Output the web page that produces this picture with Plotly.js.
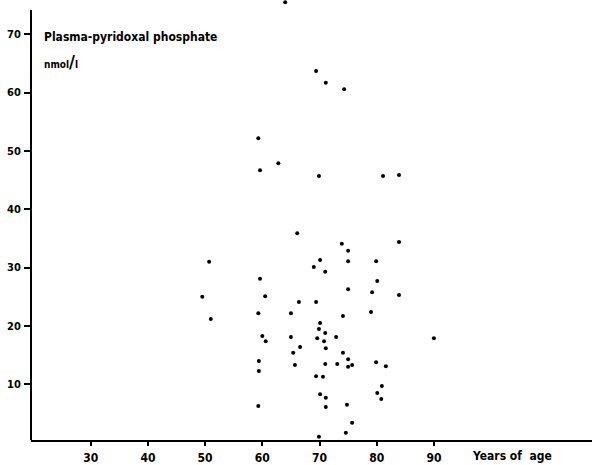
<!DOCTYPE html>
<html>
<head>
<meta charset="utf-8">
<script src="https://cdn.plot.ly/plotly-3.0.1.min.js"></script>
<style>html,body{margin:0;padding:0;background:#fff;}#chart{width:592px;height:465px;}</style>
</head>
<body>
<div id="chart"></div>
<script>
// Age (years) of each subject
var ageYears = [
  64.0, 69.4, 71.1, 74.3, 59.3, 62.8, 59.6, 69.9, 81.1, 83.9,
  66.1, 83.9, 73.9, 75.0, 50.7, 70.1, 69.0, 71.0, 75.0, 79.9,
  59.6, 80.1, 75.0, 79.2, 83.9, 49.5, 60.5, 66.4, 69.4, 51.0,
  59.3, 65.0, 79.0, 74.1, 70.1, 69.9, 71.0, 60.0, 65.0, 69.6,
  72.9, 90.0, 60.6, 70.8, 66.6, 71.1, 65.4, 74.1, 75.0, 59.4,
  65.7, 71.0, 73.1, 75.7, 75.0, 79.9, 81.6, 59.4, 69.4, 70.6,
  80.9, 80.1, 80.8, 70.1, 71.1, 59.3, 71.1, 74.8, 75.7, 74.6,
  69.9
];
// Plasma-pyridoxal phosphate (nmol/l)
var plpNmolL = [
  75.5, 63.7, 61.7, 60.6, 52.2, 47.9, 46.7, 45.7, 45.7, 45.9,
  35.9, 34.4, 34.1, 32.9, 31.0, 31.3, 30.1, 29.3, 31.1, 31.1,
  28.1, 27.7, 26.3, 25.8, 25.3, 25.0, 25.1, 24.1, 24.1, 21.2,
  22.2, 22.2, 22.4, 21.7, 20.5, 19.5, 18.8, 18.3, 18.1, 17.9,
  18.1, 17.9, 17.4, 17.4, 16.4, 16.2, 15.4, 15.4, 14.3, 14.0,
  13.3, 13.5, 13.5, 13.3, 13.0, 13.8, 13.1, 12.3, 11.4, 11.3,
  9.7, 8.5, 7.5, 8.3, 7.7, 6.3, 6.1, 6.5, 3.4, 1.7,
  1.0
];
var xTickVals = [30, 40, 50, 60, 70, 80, 90];
var yTickVals = [10, 20, 30, 40, 50, 60, 70];
var yTitle = "Plasma-pyridoxal phosphate";
var yUnit = "nmol<span style='font-size:18px'>/</span>l";
var xTitle = "Years of&nbsp; age";

var FONT = "DejaVu Sans Condensed, DejaVu Sans, sans-serif";

var trace = {
  x: ageYears,
  y: plpNmolL,
  type: "scatter",
  mode: "markers",
  cliponaxis: false,
  marker: {color: "#000", size: 4},
  hoverinfo: "skip"
};

var layout = {
  width: 592,
  height: 465,
  margin: {l: 31, r: 0, t: 0, b: 25, pad: 0},
  paper_bgcolor: "#fff",
  plot_bgcolor: "#fff",
  showlegend: false,
  font: {family: FONT, color: "#000", size: 11, weight: "bold"},
  xaxis: {
    range: [19.56, 117.64],
    tickvals: xTickVals,
    ticktext: xTickVals.map(String),
    ticks: "outside",
    ticklen: 4,
    tickwidth: 2,
    tickcolor: "#000",
    showline: true,
    linecolor: "#000",
    linewidth: 2,
    showgrid: false,
    zeroline: false,
    tickfont: {family: FONT, size: 12, color: "#000", weight: "bold"},
    ticklabelstandoff: 2
  },
  yaxis: {
    range: [0.45, 75.88],
    tickvals: yTickVals,
    ticktext: yTickVals.map(String),
    ticks: "outside",
    ticklen: 6,
    tickwidth: 2,
    tickcolor: "#000",
    showline: false,
    showgrid: false,
    zeroline: false,
    tickfont: {family: FONT, size: 11, color: "#000", weight: "bold"},
    ticklabelstandoff: 1
  },
  shapes: [
    {type: "line", xref: "paper", yref: "paper", x0: 0, x1: 0, y0: 0, y1: 0.977,
     line: {color: "#000", width: 2}}
  ],
  annotations: [
    {text: yTitle, xref: "paper", yref: "paper", x: 0.0196, y: 0.917,
     xanchor: "left", yanchor: "middle", showarrow: false,
     font: {family: FONT, size: 12, color: "#000", weight: "bold"}},
    {text: yUnit, xref: "paper", yref: "paper", x: 0.0196, y: 0.861,
     xanchor: "left", yanchor: "middle", showarrow: false,
     font: {family: FONT, size: 10, color: "#000", weight: "bold"}},
    {text: xTitle, xref: "paper", yref: "paper", x: 0.857, y: -0.036,
     xanchor: "center", yanchor: "middle", showarrow: false,
     font: {family: FONT, size: 12, color: "#000", weight: "bold"}}
  ]
};

Plotly.newPlot("chart", [trace], layout, {staticPlot: true, displayModeBar: false});
</script>
</body>
</html>
